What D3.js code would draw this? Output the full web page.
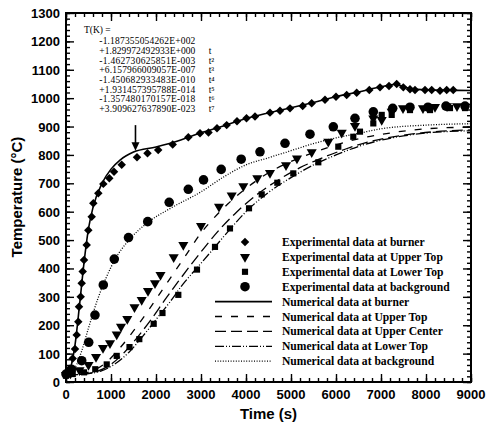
<!DOCTYPE html>
<html>
<head>
<meta charset="utf-8">
<script src="https://cdn.jsdelivr.net/npm/d3@7"></script>
<style>
  body { margin: 0; background: #fff; }
</style>
</head>
<body>
<div id="chart"></div>
<script>
// experimental points [time (s), temperature (°C)]
const expBurner = [
  [0, 25], [60, 40], [149, 83], [200, 116], [238, 166], [273, 212], [289, 265], [327, 300],
  [349, 348], [371, 389], [400, 430], [460, 483], [496, 535], [571, 582], [607, 630],
  [718, 665], [829, 698], [962, 718], [1067, 741], [1238, 765], [1578, 792], [1811, 806],
  [2049, 817], [2371, 837], [2718, 862], [2978, 876], [3167, 879], [3356, 894], [3571, 905],
  [3800, 919], [4011, 929], [4200, 935], [4533, 949], [4756, 956], [4978, 964], [5260, 972],
  [5460, 982], [5756, 994], [6000, 1005], [6238, 1011], [6460, 1019], [6740, 1029],
  [6978, 1038], [7178, 1043], [7349, 1050], [7496, 1038], [7644, 1031], [7756, 1029],
  [7978, 1029], [8127, 1029], [8311, 1026], [8460, 1029], [8606, 1029]
];
const expUpperTop = [
  [0, 25], [100, 30], [300, 42], [500, 60], [667, 88], [822, 120], [978, 137], [1127, 168],
  [1222, 195], [1362, 222], [1522, 264], [1682, 289], [1822, 321], [1978, 348], [2100, 377],
  [2393, 440], [2607, 483], [3000, 550], [3400, 618], [3682, 657], [3940, 690], [4251, 718],
  [4533, 737], [4889, 764], [5133, 788], [5460, 810], [5829, 847], [6127, 878], [6422, 902],
  [6829, 929], [7016, 923], [7238, 952], [7489, 965], [7933, 965], [8200, 969], [8467, 972],
  [8689, 972]
];
const expLowerTop = [
  [0, 22], [150, 28], [400, 34], [650, 45], [905, 62], [1127, 92], [1411, 123], [1629, 151],
  [1949, 205], [2144, 243], [2496, 307], [2911, 396], [3311, 476], [3644, 541], [4067, 612],
  [4349, 661], [4696, 702], [5051, 735], [5607, 774], [6051, 829], [6384, 864], [6533, 882],
  [6829, 911], [7016, 941], [7238, 941], [7644, 958], [8089, 958], [8533, 965], [8867, 965]
];
const expBackground = [
  [0, 28], [120, 45], [349, 75], [505, 140], [644, 236], [829, 342], [1073, 433], [1389, 509],
  [1816, 565], [2293, 633], [2718, 679], [3056, 712], [3449, 749], [3893, 785], [4311, 811],
  [4867, 841], [5422, 873], [5940, 899], [6422, 929], [6829, 952], [7260, 964], [7644, 968],
  [8044, 968], [8444, 972], [8867, 972]
];

// numerical curves [time (s), temperature (°C)]
const numBurner = [
  [0, 25], [100, 50], [200, 130], [300, 270], [400, 420], [500, 540], [600, 615], [800, 700],
  [1000, 750], [1200, 782], [1500, 810], [2000, 828], [2500, 850], [3000, 878], [3500, 902],
  [4000, 928], [4500, 948], [5000, 966], [5500, 985], [6000, 1005], [6500, 1022],
  [7000, 1040], [7300, 1048], [7600, 1036], [8000, 1029], [9000, 1027]
];
const numUpperTop = [
  [0, 25], [300, 28], [600, 40], [900, 70], [1200, 120], [1500, 180], [1800, 245],
  [2100, 315], [2400, 385], [2700, 455], [3000, 525], [3300, 580], [3600, 628], [4000, 682],
  [4500, 737], [5000, 777], [5500, 808], [6000, 835], [6500, 857], [7000, 872], [7500, 884],
  [8000, 892], [9000, 898]
];
const numUpperCenter = [
  [0, 25], [400, 28], [700, 38], [1000, 62], [1300, 105], [1600, 160], [1900, 222],
  [2200, 290], [2500, 355], [2800, 418], [3100, 478], [3400, 535], [3800, 600], [4200, 655],
  [4700, 710], [5200, 755], [5700, 790], [6200, 820], [6700, 845], [7200, 862], [7700, 874],
  [8200, 882], [9000, 888]
];
const numLowerTop = [
  [0, 25], [400, 28], [800, 40], [1100, 65], [1400, 105], [1700, 160], [2000, 220],
  [2300, 280], [2600, 345], [2900, 400], [3200, 455], [3600, 530], [4000, 600], [4500, 668],
  [5000, 720], [5500, 765], [6000, 800], [6500, 830], [7000, 852], [7500, 867], [8000, 877],
  [9000, 885]
];
const numBackground = [
  [0, 25], [200, 50], [350, 110], [500, 190], [700, 290], [900, 370], [1100, 435],
  [1400, 500], [1800, 560], [2300, 610], [3000, 670], [3500, 722], [4000, 765], [4500, 790],
  [5000, 815], [5500, 840], [6000, 860], [6500, 876], [7000, 892], [8000, 905], [9000, 910]
];

const xTicks = d3.range(0, 9001, 1000);
const yTicks = d3.range(0, 1301, 100);

const fitLabel = "T(K) =";
const fitCoeffs = [
  "-1.187355054262E+002",
  "+1.829972492933E+000",
  "-1.462730625851E-003",
  "+6.157966009057E-007",
  "-1.450682933483E-010",
  "+1.931457395788E-014",
  "-1.357480170157E-018",
  "+3.909627637890E-023"
];
const fitTerms = ["", "t", "t\u00b2", "t\u00b3", "t\u2074", "t\u2075", "t\u2076", "t\u2077"];

const expLegend = [
  { label: "Experimental data at burner", shape: "diamond" },
  { label: "Experimental data at Upper Top", shape: "triangle" },
  { label: "Experimental data at Lower Top", shape: "square" },
  { label: "Experimental data at background", shape: "circle" }
];
const numLegend = [
  { label: "Numerical data at burner", dash: null },
  { label: "Numerical data at Upper Top", dash: "7,9" },
  { label: "Numerical data at Upper Center", dash: "11,5" },
  { label: "Numerical data at Lower Top", dash: "9,2,1,2,1,2" },
  { label: "Numerical data at background", dash: "1,1.6" }
];

const width = 489;
const height = 427;
const margin = { top: 13, right: 18, bottom: 45, left: 66 };
const plotWidth = width - margin.left - margin.right;
const plotHeight = height - margin.top - margin.bottom;

const svg = d3.select("#chart")
  .append("svg")
  .attr("width", width)
  .attr("height", height);

const g = svg.append("g")
  .attr("transform", `translate(${margin.left},${margin.top})`);

const xScale = d3.scaleLinear().domain([0, 9000]).range([0, plotWidth]);
const yScale = d3.scaleLinear().domain([0, 1300]).range([plotHeight, 0]);

// numerical curves
const line = d3.line()
  .x(d => xScale(d[0]))
  .y(d => yScale(d[1]))
  .curve(d3.curveMonotoneX);

[numBurner, numUpperTop, numUpperCenter, numLowerTop, numBackground].forEach((s, i) => {
  g.append("path")
    .datum(s)
    .attr("d", line)
    .attr("fill", "none")
    .attr("stroke", "#000")
    .attr("stroke-width", i === 0 ? 1.6 : 1.3)
    .attr("stroke-dasharray", numLegend[i].dash);
});

// markers (diamond = square turned 45 degrees)
const symbols = {
  diamond: d3.symbol().type(d3.symbolSquare).size(36),
  triangle: d3.symbol().type(d3.symbolTriangle).size(44),
  square: d3.symbol().type(d3.symbolSquare).size(38),
  circle: d3.symbol().type(d3.symbolCircle).size(72)
};
const turn = { diamond: " rotate(45)", triangle: " rotate(180)", square: "", circle: "" };

function drawMarkers(data, shape) {
  g.append("g")
    .selectAll("path")
    .data(data)
    .join("path")
    .attr("d", symbols[shape])
    .attr("transform", d => `translate(${xScale(d[0])},${yScale(d[1])})` + turn[shape])
    .attr("fill", "#000");
}
drawMarkers(expBackground, "circle");
drawMarkers(expLowerTop, "square");
drawMarkers(expUpperTop, "triangle");
drawMarkers(expBurner, "diamond");

// frame with inward ticks on every side
const minorX = d3.range(0, 9001, 200);
const minorY = d3.range(0, 1301, 20);

function tickAxis(axis, ticks, size) {
  return axis.tickValues(ticks).tickSize(-size).tickFormat("");
}
const axisLayers = [
  { a: tickAxis(d3.axisBottom(xScale), minorX, 4), t: `translate(0,${plotHeight})` },
  { a: tickAxis(d3.axisBottom(xScale), xTicks, 8), t: `translate(0,${plotHeight})` },
  { a: tickAxis(d3.axisTop(xScale), minorX, 4), t: null },
  { a: tickAxis(d3.axisTop(xScale), xTicks, 8), t: null },
  { a: tickAxis(d3.axisLeft(yScale), minorY, 4), t: null },
  { a: tickAxis(d3.axisLeft(yScale), yTicks, 8), t: null },
  { a: tickAxis(d3.axisRight(yScale), minorY, 4), t: `translate(${plotWidth},0)` },
  { a: tickAxis(d3.axisRight(yScale), yTicks, 8), t: `translate(${plotWidth},0)` }
];
axisLayers.forEach(l => {
  const ax = g.append("g").attr("transform", l.t).call(l.a);
  ax.select(".domain").remove();
  ax.selectAll("line").attr("stroke", "#000").attr("stroke-width", 1.4);
});

g.append("rect")
  .attr("width", plotWidth)
  .attr("height", plotHeight)
  .attr("fill", "none")
  .attr("stroke", "#000")
  .attr("stroke-width", 2);

// tick labels
g.append("g")
  .selectAll("text")
  .data(xTicks)
  .join("text")
  .attr("x", d => xScale(d))
  .attr("y", plotHeight + 17)
  .attr("text-anchor", "middle")
  .style("font-family", "Liberation Sans, Arial, sans-serif")
  .style("font-weight", "bold")
  .style("font-size", "13px")
  .text(d => d);

g.append("g")
  .selectAll("text")
  .data(yTicks)
  .join("text")
  .attr("x", -6)
  .attr("y", d => yScale(d) + 5)
  .attr("text-anchor", "end")
  .style("font-family", "Liberation Sans, Arial, sans-serif")
  .style("font-weight", "bold")
  .style("font-size", "13px")
  .text(d => d);

// axis titles
svg.append("text")
  .attr("x", margin.left + xScale(4500))
  .attr("y", 419)
  .attr("text-anchor", "middle")
  .style("font-family", "Liberation Sans, Arial, sans-serif")
  .style("font-weight", "bold")
  .style("font-size", "15px")
  .text("Time (s)");

svg.append("text")
  .attr("transform", "rotate(-90)")
  .attr("x", -197)
  .attr("y", 22)
  .attr("text-anchor", "middle")
  .style("font-family", "Liberation Sans, Arial, sans-serif")
  .style("font-weight", "bold")
  .style("font-size", "15px")
  .text("Temperature (\u00b0C)");

// fitted polynomial annotation
const fit = g.append("g")
  .style("font-family", "Liberation Serif, Times New Roman, serif")
  .style("font-size", "9.5px");

fit.append("text")
  .attr("x", xScale(400))
  .attr("y", yScale(1230))
  .text(fitLabel);

fit.selectAll("text.coef")
  .data(fitCoeffs)
  .join("text")
  .attr("class", "coef")
  .attr("x", xScale(740))
  .attr("y", (d, i) => yScale(1190) + i * 9.7)
  .attr("textLength", 96)
  .text(d => d);

fit.selectAll("text.term")
  .data(fitTerms)
  .join("text")
  .attr("class", "term")
  .attr("x", xScale(3170))
  .attr("y", (d, i) => yScale(1190) + i * 9.7)
  .text(d => d);

// arrow to the fit curve
g.append("line")
  .attr("x1", xScale(1544))
  .attr("x2", xScale(1544))
  .attr("y1", yScale(905))
  .attr("y2", yScale(835))
  .attr("stroke", "#000")
  .attr("stroke-width", 1.6);

g.append("path")
  .attr("d", `M${xScale(1544) - 4},${yScale(845)} L${xScale(1544) + 4},${yScale(845)} L${xScale(1544)},${yScale(815)} Z`)
  .attr("fill", "#000");

// legend
const legend = svg.append("g")
  .attr("transform", "translate(215,242)")
  .style("font-family", "Liberation Serif, Times New Roman, serif")
  .style("font-weight", "bold")
  .style("font-size", "11.6px");

const rowH = 14.9;

expLegend.forEach((e, i) => {
  legend.append("path")
    .attr("d", symbols[e.shape])
    .attr("transform", `translate(30,${i * rowH})` + turn[e.shape])
    .attr("fill", "#000");
  legend.append("text")
    .attr("x", 67)
    .attr("y", i * rowH + 4)
    .text(e.label);
});

numLegend.forEach((e, j) => {
  const i = j + expLegend.length;
  legend.append("line")
    .attr("x1", 0)
    .attr("x2", 57)
    .attr("y1", i * rowH)
    .attr("y2", i * rowH)
    .attr("stroke", "#000")
    .attr("stroke-width", j === 0 ? 1.6 : 1.3)
    .attr("stroke-dasharray", e.dash);
  legend.append("text")
    .attr("x", 67)
    .attr("y", i * rowH + 4)
    .text(e.label);
});
</script>
</body>
</html>
